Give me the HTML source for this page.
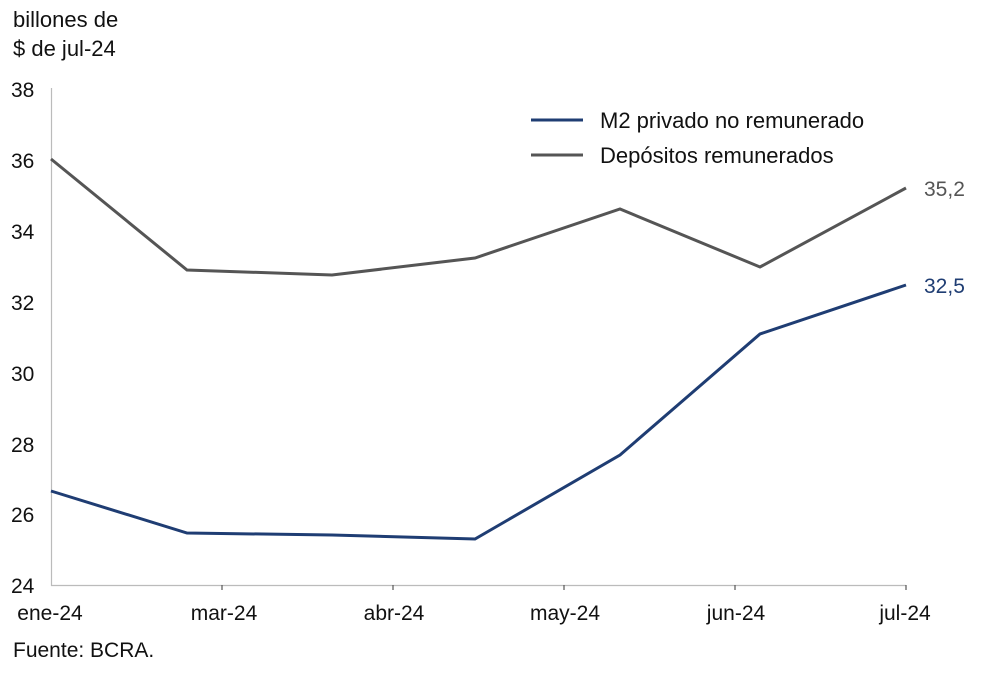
<!DOCTYPE html>
<html><head><meta charset="utf-8"><style>
body{margin:0;background:#fff;}
text{font-family:"Liberation Sans",sans-serif;}
</style></head><body>
<svg width="992" height="680" xmlns="http://www.w3.org/2000/svg">
<text x="13" y="27" font-size="22" fill="#111">billones de</text>
<text x="13" y="56" font-size="22" fill="#111">$ de jul-24</text>
<g font-size="21" fill="#111" text-anchor="start">
<text x="11" y="97">38</text>
<text x="11" y="168">36</text>
<text x="11" y="239">34</text>
<text x="11" y="310">32</text>
<text x="11" y="381">30</text>
<text x="11" y="452">28</text>
<text x="11" y="522">26</text>
<text x="11" y="593">24</text>
</g>
<line x1="51.5" y1="88" x2="51.5" y2="586" stroke="#bbb" stroke-width="1.2"/>
<line x1="51" y1="585.5" x2="906" y2="585.5" stroke="#bbb" stroke-width="1.2"/>
<g stroke="#555" stroke-width="1.2">
<line x1="222" y1="585" x2="222" y2="590"/>
<line x1="393" y1="585" x2="393" y2="590"/>
<line x1="564" y1="585" x2="564" y2="590"/>
<line x1="735" y1="585" x2="735" y2="590"/>
<line x1="906" y1="585" x2="906" y2="590"/>
</g>
<g font-size="21" fill="#111" text-anchor="middle">
<text x="50" y="620">ene-24</text>
<text x="224" y="620">mar-24</text>
<text x="394" y="620">abr-24</text>
<text x="565" y="620">may-24</text>
<text x="736" y="620">jun-24</text>
<text x="905" y="620">jul-24</text>
</g>
<text x="13" y="657" font-size="21" fill="#111">Fuente: BCRA.</text>
<polyline fill="none" stroke="#555" stroke-width="3" points="51,159 187,270 332,275 475,258 620,209 760,267 906,188"/>
<polyline fill="none" stroke="#1f3d73" stroke-width="3" points="51,491 187,533 332,535 475,539 620,455 760,334 906,285"/>
<line x1="531" y1="120" x2="583" y2="120" stroke="#1f3d73" stroke-width="3"/>
<line x1="531" y1="155" x2="583" y2="155" stroke="#555" stroke-width="3"/>
<text x="600" y="128" font-size="22" fill="#111">M2 privado no remunerado</text>
<text x="600" y="163" font-size="22" fill="#111">Depósitos remunerados</text>
<text x="924" y="196" font-size="21" fill="#555">35,2</text>
<text x="924" y="293" font-size="21" fill="#1f3d73">32,5</text>
</svg>
</body></html>
